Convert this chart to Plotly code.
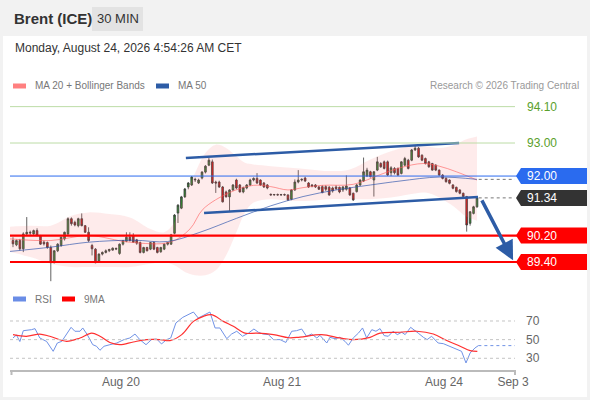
import plotly.graph_objects as go

W, H = 590, 400

# 30-minute candles, bar index 0..135
opens = [90.05, 89.92, 90.05, 89.80, 90.25, 90.30, 90.25, 90.35, 90.20, 90.00,
         89.99, 89.84, 89.38, 89.74, 89.90, 90.10, 90.25, 90.71, 90.60, 90.50,
         90.71, 90.50, 90.30, 89.90, 89.79, 89.43, 89.64, 89.69, 89.74, 89.76,
         89.79, 89.66, 89.94, 90.03, 90.15, 90.20, 90.07, 89.99, 89.69, 89.84,
         89.79, 89.99, 89.84, 89.71, 89.79, 89.94, 89.94, 90.27, 90.88, 91.03,
         91.37, 91.67, 91.73, 91.88, 91.79, 91.94, 92.12, 92.33, 92.43, 91.82,
         91.82, 91.67, 91.52, 91.37, 91.58, 91.88, 91.73, 91.52, 91.64, 91.73,
         91.88, 91.93, 91.88, 91.79, 91.73, 91.45, 91.43, 91.44, 91.43, 91.44,
         91.43, 91.30, 91.58, 91.82, 91.88, 91.94, 91.79, 91.73, 91.73, 91.67,
         91.68, 91.68, 91.66, 91.64, 91.67, 91.66, 91.58, 91.60, 91.64, 91.48,
         91.53, 91.73, 91.85, 92.00, 92.13, 91.88, 92.18, 92.38, 92.43, 92.43,
         92.10, 92.23, 92.23, 92.08, 92.33, 92.48, 92.48, 92.79, 92.84, 92.63,
         92.53, 92.43, 92.38, 92.33, 92.18, 92.03, 91.93, 91.88, 91.73, 91.66,
         91.58, 91.48, 91.38, 90.57, 90.87, 91.07]
highs = [90.15, 90.08, 90.10, 90.30, 90.76, 90.35, 90.38, 90.42, 90.22, 90.05,
         90.02, 89.90, 89.76, 89.97, 90.17, 90.32, 90.75, 90.75, 90.65, 90.74,
         90.87, 90.52, 90.45, 89.95, 89.82, 89.66, 89.72, 89.78, 89.80, 89.84,
         89.84, 89.96, 90.06, 90.30, 90.30, 90.27, 90.10, 90.02, 89.86, 89.86,
         90.00, 90.02, 89.86, 89.86, 89.96, 90.00, 90.25, 90.85, 91.15, 91.40,
         91.64, 91.82, 92.00, 91.95, 91.92, 92.15, 92.33, 92.55, 92.50, 91.86,
         91.86, 91.70, 91.56, 91.60, 91.76, 91.92, 91.76, 91.68, 91.76, 91.92,
         91.96, 92.09, 91.90, 91.82, 91.76, 91.47, 91.46, 91.47, 91.46, 91.47,
         91.45, 91.60, 91.90, 92.18, 91.93, 91.98, 91.82, 91.76, 91.76, 91.70,
         91.72, 91.72, 91.70, 91.68, 91.72, 91.68, 91.70, 92.02, 91.67, 91.50,
         91.76, 91.90, 92.56, 92.25, 92.16, 92.15, 92.58, 92.42, 92.47, 92.47,
         92.30, 92.27, 92.26, 92.45, 92.58, 92.52, 92.82, 92.94, 92.88, 92.66,
         92.56, 92.46, 92.40, 92.36, 92.20, 92.06, 91.96, 91.90, 91.76, 91.68,
         91.60, 91.50, 91.40, 90.94, 91.10, 91.36]
lows = [89.85, 89.88, 89.75, 89.70, 90.20, 90.22, 90.22, 90.18, 89.92, 89.90,
        89.80, 88.82, 89.36, 89.70, 89.86, 90.05, 90.20, 90.50, 90.48, 90.45,
        90.48, 90.28, 90.00, 89.60, 89.36, 89.40, 89.60, 89.66, 89.70, 89.74,
        89.76, 89.62, 89.90, 90.00, 90.02, 89.98, 89.92, 89.66, 89.66, 89.72,
        89.76, 89.76, 89.66, 89.68, 89.76, 89.90, 89.92, 90.24, 90.58, 91.00,
        91.34, 91.60, 91.70, 91.82, 91.76, 91.90, 92.08, 92.30, 91.76, 91.49,
        91.64, 91.20, 91.35, 90.91, 91.55, 91.60, 91.50, 91.48, 91.60, 91.70,
        91.84, 91.76, 91.70, 91.64, 91.60, 91.41, 91.41, 91.41, 91.40, 91.41,
        91.25, 91.27, 91.55, 91.78, 91.84, 91.82, 91.64, 91.66, 91.64, 91.58,
        91.48, 91.55, 91.40, 91.50, 91.58, 91.48, 91.52, 91.56, 91.40, 91.25,
        91.50, 91.70, 91.82, 91.97, 91.96, 91.38, 92.15, 92.25, 92.20, 92.00,
        92.00, 92.05, 92.00, 92.05, 92.30, 92.20, 92.45, 92.76, 92.55, 92.45,
        92.35, 92.25, 92.16, 92.15, 92.00, 91.90, 91.80, 91.75, 91.60, 91.50,
        91.45, 91.36, 90.32, 90.50, 90.84, 91.04]
closes = [89.95, 90.05, 89.80, 90.25, 90.30, 90.28, 90.35, 90.20, 89.94, 89.95,
          89.84, 89.38, 89.74, 89.94, 90.15, 90.30, 90.71, 90.56, 90.52, 90.71,
          90.50, 90.30, 90.05, 89.80, 89.38, 89.64, 89.69, 89.74, 89.78, 89.82,
          89.81, 89.94, 90.05, 90.15, 90.05, 90.00, 89.97, 89.69, 89.84, 89.74,
          89.99, 89.79, 89.69, 89.84, 89.94, 89.99, 90.22, 90.82, 91.12, 91.37,
          91.61, 91.79, 91.97, 91.90, 91.88, 92.12, 92.30, 92.48, 91.79, 91.79,
          91.67, 91.22, 91.37, 91.58, 91.73, 91.64, 91.52, 91.65, 91.73, 91.88,
          91.93, 91.79, 91.73, 91.67, 91.64, 91.43, 91.44, 91.43, 91.44, 91.43,
          91.28, 91.58, 91.82, 91.88, 91.90, 91.85, 91.67, 91.70, 91.67, 91.60,
          91.50, 91.60, 91.43, 91.55, 91.62, 91.52, 91.67, 91.70, 91.43, 91.28,
          91.73, 91.88, 92.13, 92.18, 91.98, 92.13, 92.43, 92.28, 92.23, 92.03,
          92.25, 92.10, 92.03, 92.43, 92.53, 92.23, 92.79, 92.84, 92.58, 92.48,
          92.38, 92.28, 92.18, 92.18, 92.03, 91.93, 91.83, 91.78, 91.63, 91.53,
          91.48, 91.38, 90.52, 90.92, 91.07, 91.34]
bars = list(range(len(closes)))

# Bollinger bands / moving averages read at sample bars
band_x = [-0.9, 5, 11, 17, 22, 28, 34, 40, 44, 47, 50, 53, 56, 59, 62, 65, 67.5,
          70, 75, 80.6, 86.4, 92, 98, 104, 110, 115.5, 120, 124, 128.6, 131.5, 135]
band_up = [90.47, 90.5, 90.5, 90.8, 90.9, 90.85, 90.75, 90.4, 90.3, 90.6, 91.4, 92.1,
           92.7, 92.95, 92.85, 92.6, 92.4, 92.35, 92.3, 92.25, 92.2, 92.15, 92.2,
           92.5, 92.75, 92.9, 92.9, 92.85, 92.95, 93.1, 93.2]
band_lo = [89.7, 89.55, 89.35, 89.25, 89.25, 89.25, 89.25, 89.35, 89.4, 89.3, 89.1,
           89.0, 89.0, 89.15, 89.6, 90.3, 90.9, 91.2, 91.3, 91.25, 91.25, 91.3, 91.3,
           91.3, 91.35, 91.45, 91.5, 91.35, 91.05, 90.8, 90.65]
ma20_x = [-0.9, 11, 22, 34, 45.7, 51.5, 55.3, 63, 70, 75, 80, 84.4, 90, 99, 107,
          112.6, 119.3, 124, 129, 135]
ma20 = [90.1, 90.05, 90.2, 90.0, 90.0, 90.4, 91.0, 91.5, 91.72, 91.68, 91.58, 91.65,
        91.72, 91.75, 92.05, 92.25, 92.38, 92.3, 92.13, 91.88]
ma50_x = [-0.9, 11, 22, 35, 45, 54.4, 65, 75, 84.4, 94, 104, 112.6, 124, 135]
ma50 = [89.72, 89.85, 90.0, 90.06, 90.02, 90.3, 90.72, 91.1, 91.38, 91.58, 91.73,
        91.85, 91.97, 91.9]

# analyst drawings
chan_up_x, chan_up_y = [50.3, 129.8], [92.55, 93.0]
chan_lo_x, chan_lo_y = [55.6, 135.3], [90.88, 91.37]
arrow_x, arrow_y = [136.2, 145.5], [91.31, 89.45]

# key levels
green_levels = [94.10, 93.00]
tag_levels = [92.00, 91.34, 90.20, 89.40]
tag_colors = ["#2a6bef", "#333333", "#ff0000", "#ff0000"]
last_price = 91.34

# RSI pane
rsi_x = [0, 1, 2, 3, 5.4, 6.4, 7.8, 9.8, 11.7, 12.9, 14.2, 15.6, 16.9, 18, 19.5, 20.3,
         21.6, 23.2, 24.3, 25.3, 26.5, 28.2, 30.2, 32.3, 34, 35.5, 36.9, 38.7, 40.3,
         41.8, 43.2, 44.7, 45.9, 47.4, 49.4, 52.5, 53.9, 55.4, 57.3, 58.8, 60.2, 62.2,
         63.6, 65.1, 66.8, 68.5, 70.1, 71.4, 72.8, 74.3, 75.8, 77.7, 79.4, 81.1, 82.5,
         84, 85.4, 86.9, 88.4, 89.3, 90.3, 91.3, 92.2, 93.7, 95.1, 96.6, 97.6, 99,
         100.5, 101.7, 102.9, 104.4, 105.6, 106.8, 108, 109.2, 110.6, 111.8, 113.1,
         114.1, 115.7, 116.7, 117.9, 119.4, 120.5, 121.8, 123.7, 125.2, 127.1, 129.1,
         130.5, 131.8, 133, 134.4, 135.4]
rsi = [51.8, 55, 48, 59.6, 60.7, 61.8, 51.8, 48, 37.5, 46.4, 48.2, 55.4, 63.2, 59, 59,
       62.5, 55.4, 44.6, 42.9, 38.6, 42.9, 44.6, 46.4, 50, 51.8, 56, 50, 44.6, 50, 50.7,
       45.4, 50, 51.8, 67.9, 73.9, 79.6, 73.2, 76, 79.6, 62.5, 62.5, 51, 56, 59, 53.6,
       57, 61.4, 57.9, 56, 55.4, 50, 50, 47, 59, 59.6, 61.4, 53.6, 56, 51.8, 54.6, 50,
       46.4, 52.5, 51, 52.5, 48.2, 44, 51.8, 57, 62.5, 51.8, 60.7, 59, 61.8, 54.3, 53.6,
       59, 55.4, 57.9, 55.4, 63.2, 60.7, 57, 52.5, 50, 53.6, 46.4, 45.7, 42.9, 40.4,
       37.5, 25, 35.7, 41, 43.6]
ma9_x = [0, 3.9, 7.8, 10.7, 15.6, 19.5, 22.9, 25.3, 28.2, 31.1, 35, 38.9, 42.8, 45.7,
         49.1, 52.5, 55.4, 57.8, 61.2, 64.1, 67.5, 70.9, 75.8, 80.3, 83.5, 89.8, 95.1,
         99, 103.9, 106.8, 112.6, 117.5, 122.3, 126.2, 130.1, 133, 135.1]
ma9 = [55.4, 53.6, 56, 53.6, 48.2, 51.8, 57, 53.6, 47, 44.6, 47.5, 50, 50, 49, 55.4,
       69.6, 75, 76.8, 69.6, 64.3, 57, 57, 55.4, 52, 52.7, 55.4, 51.8, 50, 52.5, 57,
       57.9, 59, 56, 49, 42.9, 38.2, 37.5]
rsi_grid = [30, 50, 70]

tick_pos = [31.4, 78.3, 125.4, 145.5]
tick_text = ["Aug 20", "Aug 21", "Aug 24", "Sep 3"]

FONT = "Liberation Sans, Arial, sans-serif"
X0, X1 = 10 / W, 515 / W


def py(p):
    return 1 - p / H


fig = go.Figure()

# bollinger band fill
fig.add_trace(go.Scatter(x=band_x, y=band_lo, mode="lines", line=dict(width=0, shape="spline"),
                         hoverinfo="skip", showlegend=False))
fig.add_trace(go.Scatter(x=band_x, y=band_up, mode="lines", line=dict(width=0, shape="spline"),
                         fill="tonexty", fillcolor="rgba(250,120,120,0.15)",
                         hoverinfo="skip", showlegend=False))
fig.add_trace(go.Scatter(x=ma20_x, y=ma20, mode="lines",
                         line=dict(color="rgba(255,90,90,0.6)", width=1, shape="spline"),
                         showlegend=False))
fig.add_trace(go.Scatter(x=ma50_x, y=ma50, mode="lines",
                         line=dict(color="rgba(40,80,170,0.65)", width=1, shape="spline"),
                         showlegend=False))

fig.add_trace(go.Candlestick(
    x=bars, open=opens, high=highs, low=lows, close=closes,
    increasing=dict(fillcolor="#2f8f2f", line=dict(color="#3a3a3a", width=0.8)),
    decreasing=dict(fillcolor="#e01010", line=dict(color="#3a3a3a", width=0.8)),
    whiskerwidth=0, showlegend=False))

# channel and projection
for cx, cy in [(chan_up_x, chan_up_y), (chan_lo_x, chan_lo_y)]:
    fig.add_trace(go.Scatter(x=cx, y=cy, mode="lines", line=dict(color="#2d5ca6", width=2.5),
                             showlegend=False))
fig.add_annotation(x=arrow_x[1], y=arrow_y[1], ax=arrow_x[0], ay=arrow_y[0],
                   xref="x", yref="y", axref="x", ayref="y", text="",
                   showarrow=True, arrowhead=2, arrowsize=1.1, arrowwidth=3.5,
                   arrowcolor="#2d5ca6")

# RSI pane
fig.add_trace(go.Scatter(x=rsi_x, y=rsi, mode="lines", line=dict(color="#7092e6", width=1),
                         xaxis="x2", yaxis="y2", showlegend=False))
fig.add_trace(go.Scatter(x=ma9_x, y=ma9, mode="lines",
                         line=dict(color="#ff3030", width=1.2, shape="spline"),
                         xaxis="x2", yaxis="y2", showlegend=False))
fig.add_trace(go.Scatter(x=[rsi_x[-1], 146], y=[rsi[-1], rsi[-1]], mode="lines",
                         line=dict(color="#7092e6", width=1, dash="dot"),
                         xaxis="x2", yaxis="y2", showlegend=False))

shapes = [
    dict(type="rect", xref="paper", yref="paper", x0=3 / W, x1=587 / W, y0=py(397), y1=py(36),
         fillcolor="white", line=dict(width=0), layer="below"),
    dict(type="rect", xref="paper", yref="paper", x0=92 / W, x1=143 / W, y0=py(31), y1=py(7),
         fillcolor="#e3e3e3", line=dict(width=0), layer="below"),
    # legend swatches
    dict(type="rect", xref="paper", yref="paper", x0=13 / W, x1=26 / W, y0=py(88.5), y1=py(83.5),
         fillcolor="#ff8080", line=dict(width=0)),
    dict(type="rect", xref="paper", yref="paper", x0=156 / W, x1=169 / W, y0=py(88.5), y1=py(83.5),
         fillcolor="#2d5ca6", line=dict(width=0)),
    dict(type="rect", xref="paper", yref="paper", x0=13 / W, x1=26 / W, y0=py(301.5), y1=py(296.5),
         fillcolor="#6a8de6", line=dict(width=0)),
    dict(type="rect", xref="paper", yref="paper", x0=62 / W, x1=75 / W, y0=py(301.5), y1=py(296.5),
         fillcolor="#ff0000", line=dict(width=0)),
    # x axis end ticks
    dict(type="line", xref="paper", yref="paper", x0=11.5 / W, x1=11.5 / W, y0=py(370), y1=py(375),
         line=dict(color="#bbbbbb", width=2)),
    dict(type="line", xref="paper", yref="paper", x0=515 / W, x1=515 / W, y0=py(370), y1=py(375),
         line=dict(color="#bbbbbb", width=2)),
    # dotted extensions of last MA value and last close
    dict(type="line", xref="x", yref="y", x0=bars[-1] + 0.5, x1=146, y0=ma50[-1], y1=ma50[-1],
         line=dict(color="#777777", width=1, dash="dot")),
    dict(type="line", xref="x", yref="y", x0=bars[-1] + 0.5, x1=146, y0=last_price, y1=last_price,
         line=dict(color="#777777", width=1, dash="dot")),
]

for lv in green_levels:
    shapes.append(dict(type="line", xref="paper", yref="y", x0=X0, x1=X1, y0=lv, y1=lv,
                       line=dict(color="#bcdca6", width=1)))
    fig.add_annotation(x=525 / W, y=lv, xref="paper", yref="y", text=f"{lv:.2f}",
                       showarrow=False, xanchor="left", font=dict(color="#5aa02c", size=12, family=FONT))

h = 8 / 33.06
for lv, col in zip(tag_levels, tag_colors):
    if col == "#ff0000":
        shapes.append(dict(type="line", xref="paper", yref="y", x0=X0, x1=518 / W, y0=lv, y1=lv,
                           line=dict(color=col, width=2.2)))
    elif lv != last_price:
        shapes.append(dict(type="line", xref="paper", yref="y", x0=X0, x1=518 / W, y0=lv, y1=lv,
                           line=dict(color=col, width=1)))
    a, b, c = 516 / W, 521 / W, 587 / W
    shapes.append(dict(type="path", xref="paper", yref="y",
                       path=f"M {a},{lv} L {b},{lv + h} L {c},{lv + h} L {c},{lv - h} L {b},{lv - h} Z",
                       fillcolor=col, line=dict(width=0)))
    fig.add_annotation(x=525 / W, y=lv, xref="paper", yref="y", text=f"{lv:.2f}",
                       showarrow=False, xanchor="left", font=dict(color="white", size=12, family=FONT))

for g in rsi_grid:
    shapes.append(dict(type="line", xref="paper", yref="y2", x0=X0, x1=X1, y0=g, y1=g,
                       line=dict(color="#c4c4c4", width=1, dash="dot")))
    fig.add_annotation(x=524 / W, y=g, xref="paper", yref="y2", text=str(g), showarrow=False,
                       xanchor="left", font=dict(color="#666666", size=12, family=FONT))

texts = [
    (12, 19, "<b>Brent (ICE)</b>", 15, "#333333", "left"),
    (117.5, 19, "30 MIN", 13, "#333333", "center"),
    (13, 48, "Monday, August 24, 2026 4:54:26 AM CET", 12, "#333333", "left"),
    (33, 86, "MA 20 + Bollinger Bands", 10, "#777777", "left"),
    (176, 86, "MA 50", 10, "#777777", "left"),
    (581, 86, "Research © 2026 Trading Central", 10, "#999999", "right"),
    (33, 299, "RSI", 10, "#777777", "left"),
    (82, 299, "9MA", 10, "#777777", "left"),
]
for x, y, t, s, c, anc in texts:
    fig.add_annotation(x=x / W, y=py(y), xref="paper", yref="paper", text=t, showarrow=False,
                       xanchor=anc, yanchor="middle", font=dict(size=s, color=c, family=FONT))

xr = [-0.87, 146.06]
fig.update_layout(
    width=W, height=H, autosize=False,
    margin=dict(l=0, r=0, t=0, b=0, autoexpand=False),
    paper_bgcolor="#f2f2f2", plot_bgcolor="rgba(0,0,0,0)",
    font=dict(family=FONT), shapes=shapes, showlegend=False,
    xaxis=dict(domain=[X0, X1], range=xr, visible=False, rangeslider=dict(visible=False),
               anchor="y"),
    yaxis=dict(domain=[py(285), py(95)], range=[88.705, 94.452], visible=False),
    xaxis2=dict(domain=[X0, X1], range=xr, anchor="y2", showgrid=False, zeroline=False,
                showline=True, linecolor="#bbbbbb", linewidth=2, ticks="", automargin=False,
                tickvals=tick_pos, ticktext=tick_text, tickfont=dict(size=12, color="#666666")),
    yaxis2=dict(domain=[py(370), py(300)], range=[17.45, 92.5], visible=False),
)

fig.write_html("out.html", config={"displayModeBar": False, "responsive": False},
               post_script="document.body.style.margin='0';document.body.style.overflow='hidden';")
